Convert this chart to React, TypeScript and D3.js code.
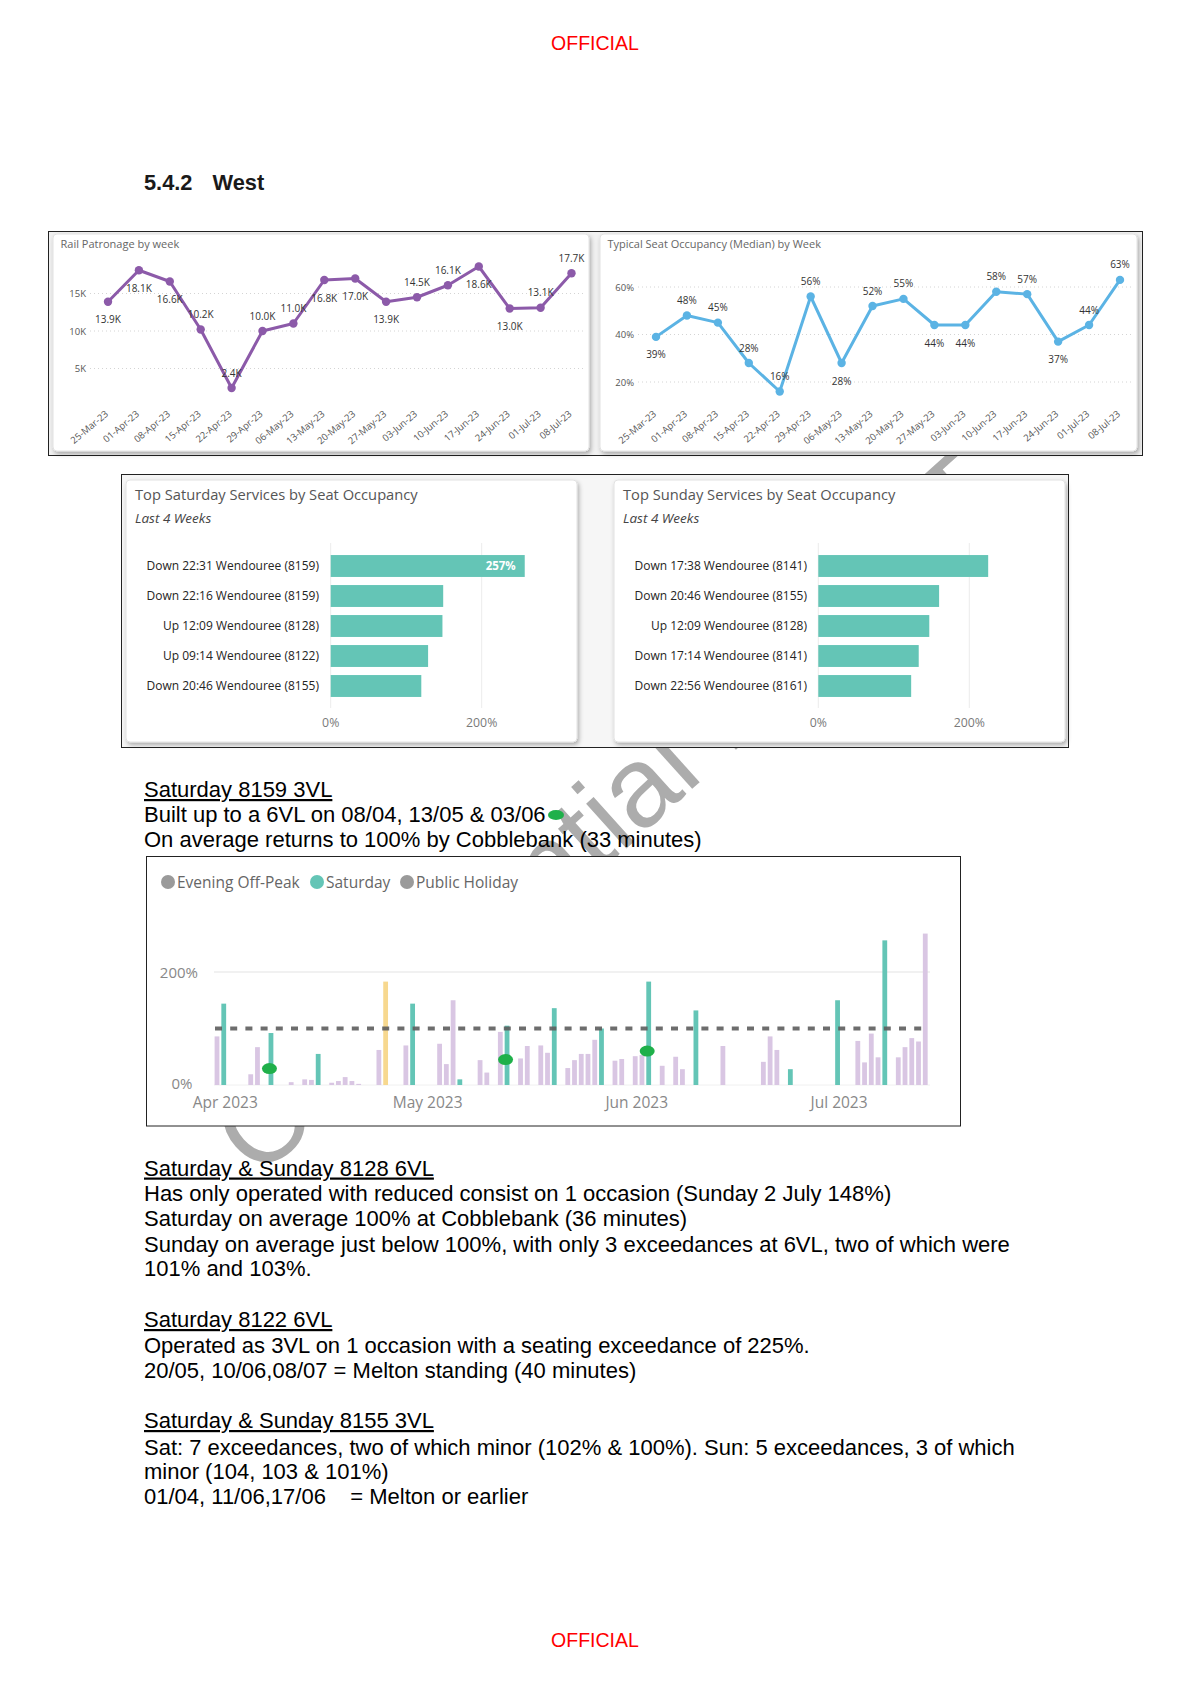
import React from "react";
import * as d3 from "d3";

// ---------- Data ----------
const weeks = ["25-Mar-23","01-Apr-23","08-Apr-23","15-Apr-23","22-Apr-23","29-Apr-23","06-May-23","13-May-23","20-May-23","27-May-23","03-Jun-23","10-Jun-23","17-Jun-23","24-Jun-23","01-Jul-23","08-Jul-23"];
const patronageK = [13.9,18.1,16.6,10.2,2.4,10.0,11.0,16.8,17.0,13.9,14.5,16.1,18.6,13.0,13.1,17.7];
const patronageLabelSide = ["below","below","below","above","above","above","above","below","below","below","above","above","below","below","above","above"];
const patronageTicks = [5, 10, 15];

const occupancyPct = [39,48,45,28,16,56,28,52,55,44,44,58,57,37,44,63];
const occupancyLabelSide = ["below","above","above","above","above","above","below","above","above","below","below","above","above","below","above","above"];
const occupancyTicks = [20, 40, 60];

const satServices = ["Down 22:31 Wendouree (8159)","Down 22:16 Wendouree (8159)","Up 12:09 Wendouree (8128)","Up 09:14 Wendouree (8122)","Down 20:46 Wendouree (8155)"];
const satOccupancy = [257, 149, 148, 129, 120];
const sunServices = ["Down 17:38 Wendouree (8141)","Down 20:46 Wendouree (8155)","Up 12:09 Wendouree (8128)","Down 17:14 Wendouree (8141)","Down 22:56 Wendouree (8161)"];
const sunOccupancy = [225, 160, 147, 133, 123];
const barTicks = [0, 200];

const dayDates = ["2023-03-31","2023-04-01","2023-04-05","2023-04-06","2023-04-08","2023-04-11","2023-04-13","2023-04-14","2023-04-15","2023-04-17","2023-04-18","2023-04-19","2023-04-20","2023-04-21","2023-04-24","2023-04-25","2023-04-28","2023-04-29","2023-05-03","2023-05-04","2023-05-05","2023-05-06","2023-05-09","2023-05-10","2023-05-12","2023-05-13","2023-05-15","2023-05-16","2023-05-18","2023-05-19","2023-05-20","2023-05-22","2023-05-23","2023-05-24","2023-05-25","2023-05-26","2023-05-27","2023-05-29","2023-05-30","2023-06-01","2023-06-02","2023-06-03","2023-06-05","2023-06-07","2023-06-08","2023-06-10","2023-06-14","2023-06-20","2023-06-21","2023-06-22","2023-06-24","2023-07-01","2023-07-04","2023-07-05","2023-07-06","2023-07-07","2023-07-08","2023-07-10","2023-07-11","2023-07-12","2023-07-13","2023-07-14"];
const dayValues = [86,144,19,67,92,5,10,9,55,4,7,14,7,2,62,183,70,144,73,37,150,10,44,22,94,105,47,69,70,57,136,30,44,55,55,80,100,43,46,51,53,183,34,50,28,132,69,41,86,62,28,150,78,40,91,49,256,49,67,83,77,268];
const dayTypes = [
  "E","S","E","E","S","E","E","E","S","E",
  "E","E","E","E","E","H","E","S","E","E",
  "E","S","E","E","E","S","E","E","E","E",
  "S","E","E","E","E","E","S","E","E","E",
  "E","S","E","E","E","S","E","E","E","E",
  "S","S","E","E","E","E","S","E","E","E",
  "E","E"];
const sixVLDates = ["2023-04-08","2023-05-13","2023-06-03"];
const sixVLMarkerValues = [29, 45, 60];
const legendItems = ["Evening Off-Peak","Saturday","Public Holiday"];
const monthTicks = ["2023-04-01","2023-05-01","2023-06-01","2023-07-01"];
const columnTicks = [0, 200];
const targetLevel = 100;

// ---------- Styles ----------
const PBI = "'Segoe UI', 'Open Sans', 'Noto Sans', sans-serif";
const ARIAL = "'Liberation Sans', Arial, Helvetica, sans-serif";
const PURPLE = "#8c5aa9";
const BLUE = "#5bb3e4";
const TEAL = "#64c5b6";
const PINK = "#d9c6e3";
const YELLOW = "#f7d88f";
const GREEN = "#1fb04a";

const parseDay = (s: string) => {
  const [y, m, d] = s.split("-").map(Number);
  return new Date(Date.UTC(y, m - 1, d));
};

function LineCard(props: {
  cardX: number; cardW: number; title: string; values: number[]; sides: string[];
  ticks: number[]; tickFmt: (v: number) => string; labelFmt: (v: number) => string;
  xRange: [number, number]; yDomain: [number, number]; yRange: [number, number];
  tickRight: number; gridRange: [number, number]; color: string;
}) {
  const { cardX, cardW, title, values, sides, ticks, tickFmt, labelFmt, xRange, yDomain, yRange, tickRight, gridRange, color } = props;
  const x = d3.scalePoint<string>().domain(weeks).range(xRange);
  const y = d3.scaleLinear().domain(yDomain).range(yRange);
  const line = d3.line<number>().x((_, i) => x(weeks[i]) as number).y((d) => y(d));
  return (
    <g>
      <rect x={cardX} y={234} width={cardW} height={217} rx={4} fill="#fff" stroke="#e2e2e2" filter="url(#cardShadow)" />
      <text x={cardX + 7.5} y={247.5} fontFamily={PBI} fontSize={11} fill="#666">{title}</text>
      {ticks.map((t) => (
        <g key={t}>
          <line x1={gridRange[0]} x2={gridRange[1]} y1={y(t)} y2={y(t)} stroke="#d4d4d4" strokeWidth={1} strokeDasharray="1 3" />
          <text x={tickRight} y={y(t) + 3.5} textAnchor="end" fontFamily={PBI} fontSize={9.5} fill="#555">{tickFmt(t)}</text>
        </g>
      ))}
      <path d={line(values) || ""} fill="none" stroke={color} strokeWidth={3} strokeLinejoin="round" />
      {values.map((v, i) => (
        <circle key={i} cx={x(weeks[i])} cy={y(v)} r={4.2} fill={color} />
      ))}
      {values.map((v, i) => (
        <text key={"l" + i} x={x(weeks[i])} y={sides[i] === "above" ? y(v) - 11.5 : y(v) + 21.5} textAnchor="middle" fontFamily={PBI} fontSize={10} fill="#333">{labelFmt(v)}</text>
      ))}
      {weeks.map((w) => (
        <text key={w} transform={`translate(${(x(w) as number) + 1},${415}) rotate(-40)`} textAnchor="end" fontFamily={PBI} fontSize={9.5} fill="#555">{w}</text>
      ))}
    </g>
  );
}

function BarCard(props: {
  cardX: number; cardW: number; title: string; services: string[]; values: number[];
  x0: number; x200: number; labelRight: number; showTop: boolean;
}) {
  const { cardX, cardW, title, services, values, x0, x200, labelRight, showTop } = props;
  const x = d3.scaleLinear().domain([0, 200]).range([x0, x200]);
  const y = d3.scaleBand<string>().domain(services).range([551, 701]).paddingInner(0.27).paddingOuter(0.135);
  return (
    <g>
      <rect x={cardX} y={480} width={cardW} height={262} rx={4} fill="#fff" stroke="#e2e2e2" filter="url(#cardShadow)" />
      <text x={cardX + 9} y={499.5} fontFamily={PBI} fontSize={14.7} fill="#555">{title}</text>
      <text x={cardX + 9} y={522.5} fontFamily={PBI} fontSize={13.5} fontStyle="italic" fill="#444">Last 4 Weeks</text>
      {barTicks.map((t) => (
        <g key={t}>
          <line x1={x(t)} x2={x(t)} y1={543} y2={708} stroke="#ececec" strokeWidth={1} />
          <text x={x(t)} y={727} textAnchor="middle" fontFamily={PBI} fontSize={12.3} fill="#7a7a7a">{t}%</text>
        </g>
      ))}
      {services.map((s, i) => {
        const yc = (y(s) as number) + y.bandwidth() / 2;
        return (
          <g key={s}>
            <text x={labelRight} y={yc + 4.2} textAnchor="end" fontFamily={PBI} fontSize={12} fill="#252423">{s}</text>
            <rect x={x(0)} y={y(s)} width={x(values[i]) - x(0)} height={y.bandwidth()} fill={TEAL} />
            {showTop && i === 0 ? (
              <text x={x(values[i]) - 9} y={yc + 4} textAnchor="end" fontFamily={PBI} fontSize={11.5} fontWeight="bold" fill="#fff">{values[i]}%</text>
            ) : null}
          </g>
        );
      })}
    </g>
  );
}

function ColumnChart() {
  const x = d3.scaleUtc().domain([parseDay("2023-03-31"), parseDay("2023-07-15")]).range([217, 932]);
  const y = d3.scaleLinear().domain([0, 200]).range([1085, 972]);
  const colorOf = (t: string) => (t === "S" ? TEAL : t === "H" ? YELLOW : PINK);
  const legendX = [168, 317, 407];
  const legendColors = ["#9a9a9a", TEAL, "#9a9a9a"];
  const bw = 4.8;
  return (
    <g>
      <rect x={146.5} y={856.5} width={814} height={269.5} fill="#fff" stroke="#222" strokeWidth={1} />
      {legendItems.map((l, i) => (
        <g key={l}>
          <circle cx={legendX[i]} cy={882} r={7} fill={legendColors[i]} />
          <text x={legendX[i] + 9} y={887.5} fontFamily={PBI} fontSize={15.5} fill="#666">{l}</text>
        </g>
      ))}
      {columnTicks.map((t) => (
        <g key={t}>
          <line x1={214} x2={930} y1={y(t)} y2={y(t)} stroke={t === 0 ? "#f0f0f0" : "#e3e3e3"} strokeWidth={1} />
          <text x={t === 0 ? 192.5 : 198} y={y(t) + (t === 0 ? 4 : 5.5)} textAnchor="end" fontFamily={PBI} fontSize={15} fill="#888">{t}%</text>
        </g>
      ))}
      {dayDates.map((d, i) => {
        const xc = x(parseDay(d));
        return <rect key={d} x={xc - bw / 2} y={y(dayValues[i])} width={bw} height={y(0) - y(dayValues[i])} fill={colorOf(dayTypes[i])} />;
      })}
      <line x1={215} x2={922} y1={y(targetLevel)} y2={y(targetLevel)} stroke="#5d5d5d" strokeOpacity={0.9} strokeWidth={4} strokeDasharray="7 8.2" />
      {sixVLDates.map((d, i) => (
        <ellipse key={d} cx={x(parseDay(d)) - 1.5} cy={y(sixVLMarkerValues[i])} rx={7.5} ry={5.5} fill={GREEN} />
      ))}
      {monthTicks.map((m) => (
        <text key={m} x={x(parseDay(m)) + 1.5} y={1108} textAnchor="middle" fontFamily={PBI} fontSize={15.5} fill="#888">{d3.utcFormat("%b %Y")(parseDay(m))}</text>
      ))}
    </g>
  );
}

const paragraphs: { text: string; y: number; u?: boolean }[] = [
  { text: "Saturday 8159 3VL", y: 797, u: true },
  { text: "Built up to a 6VL on 08/04, 13/05 & 03/06", y: 822 },
  { text: "On average returns to 100% by Cobblebank (33 minutes)", y: 846.5 },
  { text: "Saturday & Sunday 8128 6VL", y: 1175.5, u: true },
  { text: "Has only operated with reduced consist on 1 occasion (Sunday 2 July 148%)", y: 1201 },
  { text: "Saturday on average 100% at Cobblebank (36 minutes)", y: 1226 },
  { text: "Sunday on average just below 100%, with only 3 exceedances at 6VL, two of which were", y: 1251.5 },
  { text: "101% and 103%.", y: 1276 },
  { text: "Saturday 8122 6VL", y: 1327, u: true },
  { text: "Operated as 3VL on 1 occasion with a seating exceedance of 225%.", y: 1352.5 },
  { text: "20/05, 10/06,08/07 = Melton standing (40 minutes)", y: 1378 },
  { text: "Saturday & Sunday 8155 3VL", y: 1428, u: true },
  { text: "Sat: 7 exceedances, two of which minor (102% & 100%). Sun: 5 exceedances, 3 of which", y: 1454.5 },
  { text: "minor (104, 103 & 101%)", y: 1479 },
  { text: "01/04, 11/06,17/06    = Melton or earlier", y: 1504 },
];

export default function App() {
  return (
    <svg width={1190} height={1684} viewBox="0 0 1190 1684" style={{ position: "absolute", left: 0, top: 0, display: "block" }}>
      <defs>
        <filter id="cardShadow" x="-5%" y="-5%" width="112%" height="115%">
          <feDropShadow dx="1.5" dy="2.5" stdDeviation="2" floodColor="#000" floodOpacity="0.3" />
        </filter>
      </defs>
      <rect width={1190} height={1684} fill="#fff" />

      {/* watermark */}
      <text transform="translate(258,1180) rotate(-42)" textAnchor="start" fontFamily={ARIAL} fontSize={114} fill="#acacac">Confidential DRAFT</text>

      <text x={595} y={50} textAnchor="middle" fontFamily={ARIAL} fontSize={19.5} fill="#ff0000">OFFICIAL</text>
      <text x={144} y={190} fontFamily={ARIAL} fontWeight="bold" fontSize={21.8} fill="#1a1a1a">5.4.2</text>
      <text x={212.5} y={190} fontFamily={ARIAL} fontWeight="bold" fontSize={21.8} fill="#1a1a1a">West</text>

      {/* top box */}
      <rect x={48.5} y={231.5} width={1094} height={224} fill="#f1f1f1" stroke="#222" strokeWidth={1} />
      <LineCard cardX={53} cardW={536} title="Rail Patronage by week" values={patronageK} sides={patronageLabelSide}
        ticks={patronageTicks} tickFmt={(v) => `${v}K`} labelFmt={(v) => `${d3.format(".1f")(v)}K`}
        xRange={[108, 571.5]} yDomain={[0, 15]} yRange={[406, 293.5]} tickRight={86} gridRange={[90, 585]} color={PURPLE} />
      <LineCard cardX={600} cardW={537} title="Typical Seat Occupancy (Median) by Week" values={occupancyPct} sides={occupancyLabelSide}
        ticks={occupancyTicks} tickFmt={(v) => `${v}%`} labelFmt={(v) => `${v}%`}
        xRange={[656, 1120]} yDomain={[0, 60]} yRange={[429.5, 287]} tickRight={634} gridRange={[638, 1132]} color={BLUE} />

      {/* bar box */}
      <rect x={121.5} y={474.5} width={947} height={273} fill="#f6f6f6" stroke="#222" strokeWidth={1} />
      <BarCard cardX={126} cardW={451} title="Top Saturday Services by Seat Occupancy" services={satServices} values={satOccupancy}
        x0={330.7} x200={481.7} labelRight={319} showTop={true} />
      <BarCard cardX={614} cardW={451} title="Top Sunday Services by Seat Occupancy" services={sunServices} values={sunOccupancy}
        x0={818.3} x200={969.3} labelRight={807} showTop={false} />

      <ColumnChart />

      {paragraphs.map((p, i) => (
        <text key={i} x={144} y={p.y} fontFamily={ARIAL} fontSize={22} fill="#000"
          style={{ whiteSpace: "pre", textDecoration: p.u ? "underline" : "none" }}>{p.text}</text>
      ))}
      <ellipse cx={556} cy={815} rx={8} ry={5} fill={GREEN} />

      <text x={595} y={1647} textAnchor="middle" fontFamily={ARIAL} fontSize={19.5} fill="#ff0000">OFFICIAL</text>
    </svg>
  );
}
